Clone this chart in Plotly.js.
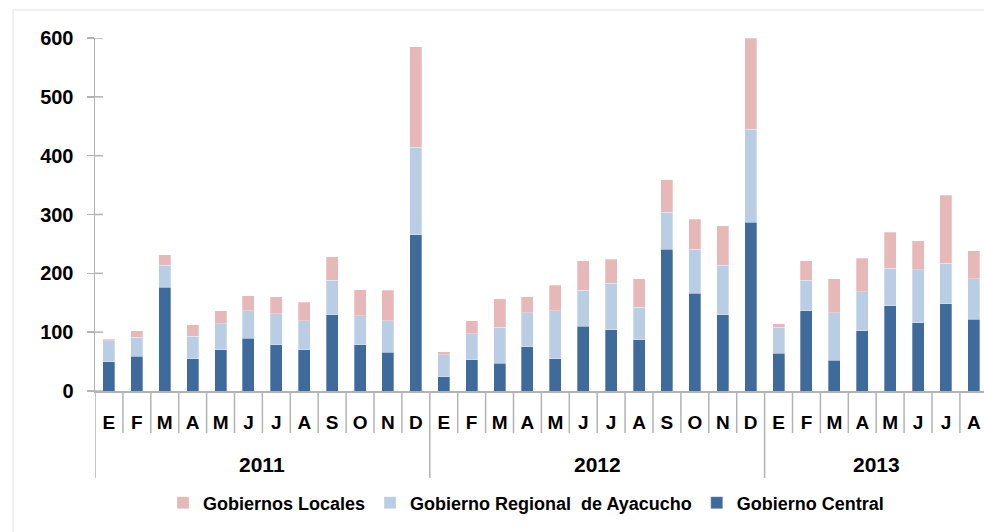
<!DOCTYPE html>
<html>
<head>
<meta charset="utf-8">
<script src="https://cdn.plot.ly/plotly-3.0.1.min.js"></script>
<style>html,body{margin:0;padding:0;background:#fff;}#chart{width:984px;height:532px;}</style>
</head>
<body>
<div id="chart"></div>
<script>
const months = ["E","F","M","A","M","J","J","A","S","O","N","D",
                "E","F","M","A","M","J","J","A","S","O","N","D",
                "E","F","M","A","M","J","J","A"];
const years = ["2011","2011","2011","2011","2011","2011","2011","2011","2011","2011","2011","2011",
               "2012","2012","2012","2012","2012","2012","2012","2012","2012","2012","2012","2012",
               "2013","2013","2013","2013","2013","2013","2013","2013"];
const gobiernoCentral = [50,59,176,55,70,90,79,70,130,79,66,266,
                         24,53,47,75,55,110,104,87,241,166,130,287,
                         64,136,52,102,145,116,148,122];
const gobiernoRegional = [35,32,38,38,44,46,52,49,58,49,53,148,
                          38,44,61,58,81,61,79,55,63,75,84,158,
                          44,52,81,67,64,90,69,69];
const gobiernosLocales = [3,11,18,20,22,26,29,32,40,44,52,171,
                          5,22,49,27,44,50,41,49,55,51,67,155,
                          6,33,58,57,61,49,116,47];
const yTicks = [0,100,200,300,400,500,600];

const idx = months.map((m,i)=>i);
const FONT = "Liberation Sans, Arial, sans-serif";
const AX = "#B3B3B3";

const mk = (name, vals, color) => ({
  type: "bar", name: name, x: idx, y: vals,
  marker: {color: color, line: {color: "rgba(255,255,255,0.6)", width: 0.5}},
  hoverinfo: "y+name"
});
const traces = [
  mk("Gobierno Central", gobiernoCentral, "#3F6A9C"),
  mk("Gobierno Regional  de Ayacucho", gobiernoRegional, "#B9CDE4"),
  mk("Gobiernos Locales", gobiernosLocales, "#E6B8B7")
];

// geometry in paper coords
const plotL = 95, plotW = 889, plotTop = 38, plotBot = 391, plotH = plotBot - plotTop;
const py = p => (plotBot - p) / plotH;
const px = p => (p - plotL) / plotW;

const shapes = [];
// chart-area border
shapes.push({type:"rect", xref:"paper", yref:"paper", x0:px(13), x1:1.2, y0:-0.6, y1:py(10),
  line:{color:"#E2E2E2", width:1}, layer:"below"});
// separators between months and years
for (let k = 0; k <= years.length; k++) {
  const yearStart = (k === 0) || (k < years.length && years[k] !== years[k-1]);
  shapes.push({type:"line", xref:"x", yref:"paper", x0:k-0.5, x1:k-0.5,
    y0:0, y1: yearStart ? py(478) : py(433), line:{color:AX, width:1.5}});
}
// inner halves of the y ticks (ticks cross the axis line)
yTicks.forEach(v => shapes.push({type:"line", xref:"paper", yref:"y", x0:0, x1:px(103), y0:v, y1:v,
  line:{color:AX, width:1.5}}));

// year labels centred on their groups
const annotations = [];
[...new Set(years)].forEach(yr => {
  const ii = idx.filter(i => years[i] === yr);
  const c = (ii[0] + ii[ii.length-1]) / 2;
  annotations.push({xref:"x", yref:"paper", x:c, y:py(464), text:yr, showarrow:false,
    yanchor:"middle", font:{family:FONT, size:21, color:"#000", weight:"bold"}});
});

const layout = {
  width: 984, height: 532,
  margin: {l: plotL, r: 0, t: plotTop, b: 532 - plotBot, pad: 0},
  paper_bgcolor: "#fff", plot_bgcolor: "#fff",
  barmode: "stack", bargap: 0.57,
  showlegend: true,
  legend: {orientation:"h", x:px(526), xanchor:"center", y:py(503), yanchor:"middle",
    traceorder:"reversed", font:{family:FONT, size:18, color:"#000", weight:"bold"},
    itemwidth:30, bgcolor:"rgba(0,0,0,0)"},
  xaxis: {range:[-0.5, -0.5 + plotW/27.9], tickmode:"array", tickvals: idx, ticktext: months,
    ticks:"", showline:true, linecolor:AX, linewidth:1.5, showgrid:false, zeroline:false,
    ticklabelstandoff: 14,
    tickfont:{family:FONT, size:19, color:"#000", weight:"bold"}, fixedrange:true},
  yaxis: {range:[0,600], tickmode:"array", tickvals:yTicks, ticks:"outside", ticklen:7,
    tickwidth:1.5, tickcolor:AX, showline:true, linecolor:AX, linewidth:1.5,
    showgrid:false, zeroline:false, ticklabelstandoff: 9,
    tickfont:{family:FONT, size:20, color:"#000", weight:"bold"}, fixedrange:true},
  shapes: shapes,
  annotations: annotations
};

Plotly.newPlot("chart", traces, layout, {displayModeBar:false, staticPlot:true});
</script>
</body>
</html>
